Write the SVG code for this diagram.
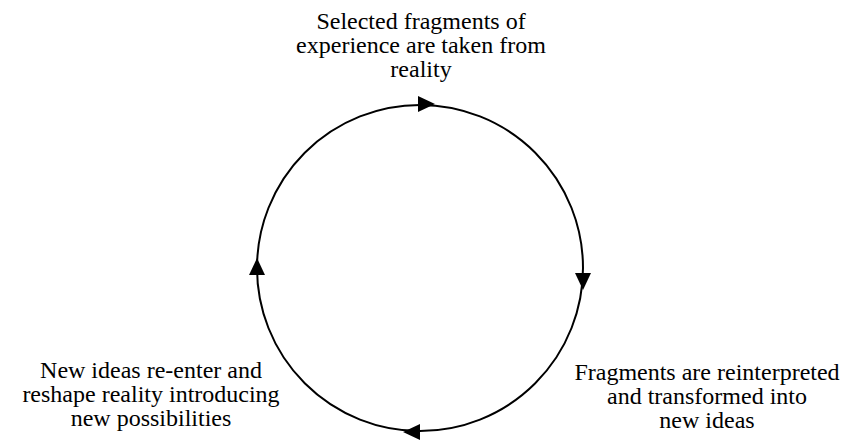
<svg xmlns="http://www.w3.org/2000/svg" width="850" height="440" viewBox="0 0 850 440">
<style>
.lbl{font-family:'Liberation Serif','Times New Roman',serif;font-size:24px;fill:#000;text-anchor:middle}
.cyc{fill:none;stroke:#000;stroke-width:2}
.ah{fill:#000;stroke:none}
</style>
<rect width="850" height="440" fill="#fff"/>
<g id="connectors">
<circle class="cyc" cx="420" cy="268" r="163"/>
<polygon class="ah" points="435,104 418,96 418,112"/>
<polygon class="ah" points="583,290 575,273 591,273"/>
<polygon class="ah" points="403,432 420,424 420,440"/>
<polygon class="ah" points="257,258 249,275 265,275"/>
</g>
<g id="node-top">
<text class="lbl" x="421" y="29">Selected fragments of</text>
<text class="lbl" x="421" y="53">experience are taken from</text>
<text class="lbl" x="421" y="77">reality</text>
</g>
<g id="node-right">
<text class="lbl" x="707" y="380">Fragments are reinterpreted</text>
<text class="lbl" x="707" y="404">and transformed into</text>
<text class="lbl" x="707" y="428">new ideas</text>
</g>
<g id="node-left">
<text class="lbl" x="151" y="378">New ideas re-enter and</text>
<text class="lbl" x="151" y="402">reshape reality introducing</text>
<text class="lbl" x="151" y="426">new possibilities</text>
</g>
</svg>
